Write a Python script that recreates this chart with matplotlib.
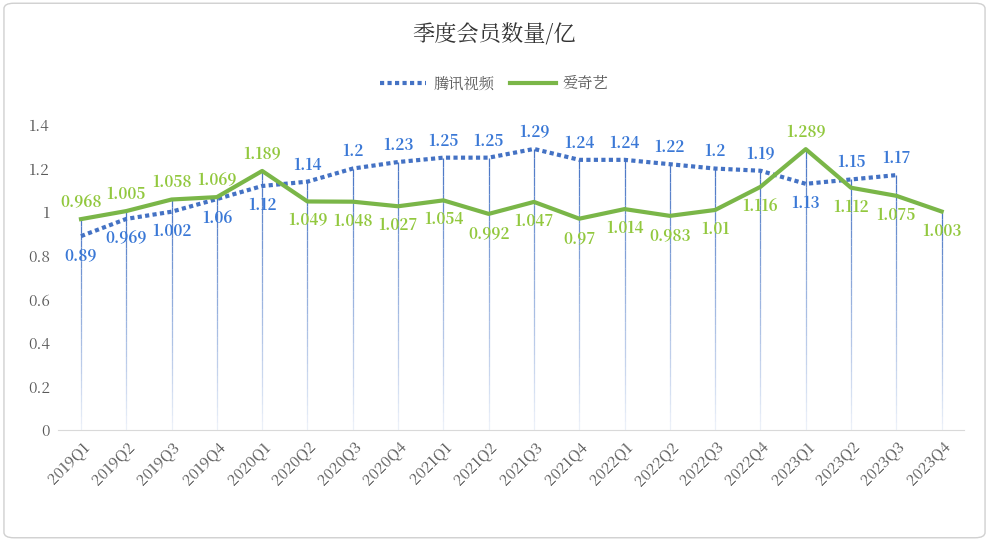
import matplotlib
matplotlib.use("Agg")
import matplotlib.pyplot as plt
from matplotlib import font_manager as fm
import numpy as np
from matplotlib.patches import FancyBboxPatch

cjk = None
for f in fm.findSystemFonts():
    n = f.lower()
    if "cjk" in n and ("sc" in n or "regular" in n or ".ttc" in n):
        cjk = f
        break
if cjk:
    fm.fontManager.addfont(cjk)
    cjk_name = fm.FontProperties(fname=cjk).get_name()
else:
    cjk_name = "Noto Sans CJK SC"
plt.rcParams["font.family"] = [cjk_name, "DejaVu Sans"]

quarters = ["2019Q1","2019Q2","2019Q3","2019Q4","2020Q1","2020Q2","2020Q3","2020Q4",
            "2021Q1","2021Q2","2021Q3","2021Q4","2022Q1","2022Q2","2022Q3","2022Q4",
            "2023Q1","2023Q2","2023Q3","2023Q4"]
tencent = [0.89,0.969,1.002,1.06,1.12,1.14,1.2,1.23,1.25,1.25,1.29,1.24,1.24,1.22,1.2,1.19,1.13,1.15,1.17]
iqiyi = [0.968,1.005,1.058,1.069,1.189,1.049,1.048,1.027,1.054,0.992,1.047,0.97,1.014,0.983,1.01,1.116,1.289,1.112,1.075,1.003]

blue = "#4472C4"
green = "#7AB648"
blue_lbl = "#3A78D6"
green_lbl = "#92C83E"

fig = plt.figure(figsize=(9.89, 5.41), dpi=100)
fig.patches.append(FancyBboxPatch((0.004, 0.006), 0.992, 0.988, boxstyle="round,pad=0,rounding_size=0.01",
                                  transform=fig.transFigure, fill=False, ec="#D0D0D0", lw=1))
ax = fig.add_axes([0.059, 0.205, 0.916, 0.564])
x = np.arange(len(quarters))

for i in range(len(quarters)):
    top = max(tencent[i] if i < len(tencent) else -1, iqiyi[i])
    n = 30
    ys = np.linspace(0, top, n + 1)
    for k in range(n):
        a = 0.1 + 0.9 * (k / n)
        ax.plot([i, i], [ys[k], ys[k+1]], color=blue, lw=0.9, alpha=a, solid_capstyle="butt", zorder=1)

ax.plot(x[:len(tencent)], tencent, color=blue, lw=3, ls=(0, (1, 0.8)), label="腾讯视频", zorder=3)
ax.plot(x, iqiyi, color=green, lw=3, label="爱奇艺", zorder=3)

for i, v in enumerate(tencent):
    above = v > iqiyi[i]
    ax.annotate(f"{v:g}", (i, v), xytext=(0, 12 if above else -14), textcoords="offset points",
                ha="center", va="center", color=blue_lbl, fontsize=11, fontweight="bold", zorder=4)
for i, v in enumerate(iqiyi):
    above = i < len(tencent) and v > tencent[i]
    ax.annotate(f"{v:g}", (i, v), xytext=(0, 12 if above else -14), textcoords="offset points",
                ha="center", va="center", color=green_lbl, fontsize=11, fontweight="bold", zorder=4)

ax.set_xlim(-0.5, len(quarters) - 0.5)
ax.set_ylim(0, 1.4)
ax.set_yticks(np.arange(0, 1.41, 0.2))
ax.set_yticklabels(["0", "0.2", "0.4", "0.6", "0.8", "1", "1.2", "1.4"])
ax.set_xticks(x)
ax.set_xticklabels(quarters, rotation=45, ha="right", rotation_mode="anchor")
ax.tick_params(axis="both", length=0, labelsize=11, colors="#595959", pad=6)
for s in ["top", "right", "left"]:
    ax.spines[s].set_visible(False)
ax.spines["bottom"].set_color("#D9D9D9")

fig.text(0.5, 0.935, "季度会员数量/亿", ha="center", va="center", fontsize=16, color="#333333")
fig.legend(loc="center", bbox_to_anchor=(0.5, 0.845), ncol=2, frameon=False, fontsize=11,
           handlelength=3, columnspacing=1.0, handletextpad=0.5, labelcolor="#595959")
fig.savefig("out.png", dpi=100)
